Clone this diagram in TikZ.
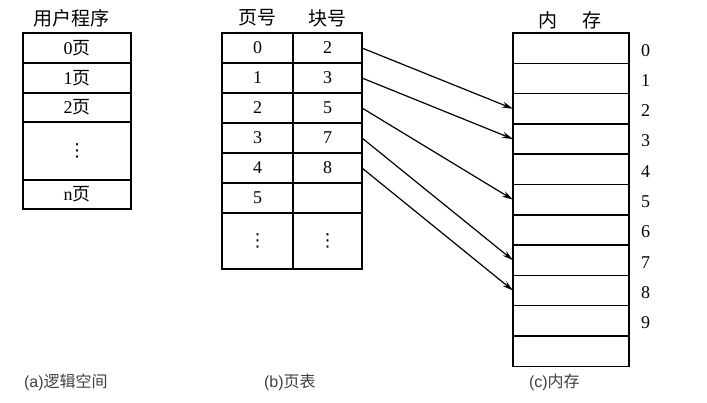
\documentclass[tikz,border=0pt]{standalone}
\usepackage{fontspec}
\setmainfont{Liberation Serif}
\setsansfont{Liberation Sans}
\newfontfamily\cjk{Noto Sans CJK SC}
\newfontfamily\symf{DejaVu Sans}
\usetikzlibrary{positioning,arrows.meta}

\begin{document}
\begin{tikzpicture}[x=1pt,y=-1pt,>={Stealth[length=11pt,width=6pt]},line width=1.5pt,
    cell/.style={draw,inner sep=0pt,outer sep=0pt,font=\fontsize{18}{20}\selectfont},
    acell/.style={cell,minimum width=108pt},
    pcell/.style={cell,minimum width=71pt,minimum height=30pt},
    kcell/.style={cell,minimum width=69pt,minimum height=30pt},
    mcell/.style={cell,anchor=north west,minimum width=116pt,minimum height=30.3pt},
    title/.style={font=\cjk\fontsize{19}{21}\selectfont},
    caption/.style={anchor=west,text=black!75,font=\sffamily\fontsize{16}{18}\selectfont}]

    \useasboundingbox (0,0) rectangle (707,402);

    % (a) logical space
    \node[title] (ta) at (72,18) {用户程序};
    \node[acell, anchor=north west, minimum height=30pt] (a0) at (23,33) {0{\cjk 页}};
    \node[acell, minimum height=30pt] (a1) [below=0pt of a0] {1{\cjk 页}};
    \node[acell, minimum height=29pt] (a2) [below=0pt of a1] {2{\cjk 页}};
    \node[acell, minimum height=58pt] (a3) [below=0pt of a2] {\symf ⋮};
    \node[acell, minimum height=29pt] (a4) [below=0pt of a3] {n{\cjk 页}};

    % (b) page table
    \node[title] (tp) at (257,18) {页号};
    \node[title] (tk) at (327,18) {块号};
    \node[pcell, anchor=north west] (p0) at (222,33) {0};
    \node[pcell] (p1) [below=0pt of p0] {1};
    \node[pcell] (p2) [below=0pt of p1] {2};
    \node[pcell] (p3) [below=0pt of p2] {3};
    \node[pcell] (p4) [below=0pt of p3] {4};
    \node[pcell] (p5) [below=0pt of p4] {5};
    \node[pcell, minimum height=56pt] (p6) [below=0pt of p5] {\symf ⋮};
    \node[kcell] (k0) [right=0pt of p0] {2};
    \node[kcell] (k1) [right=0pt of p1] {3};
    \node[kcell] (k2) [right=0pt of p2] {5};
    \node[kcell] (k3) [right=0pt of p3] {7};
    \node[kcell] (k4) [right=0pt of p4] {8};
    \node[kcell] (k5) [right=0pt of p5] {};
    \node[kcell, minimum height=56pt] (k6) [right=0pt of p6] {\symf ⋮};

    % (c) memory
    \node[title] (tm) at (570,20) {内\hspace{26pt}存};
    \foreach \i in {0,...,10}
        \node[mcell] (m\i) at (513,{33+30.3*\i}) {};
    \foreach \i in {0,...,9}
        \node[font=\fontsize{18}{20}\selectfont] (l\i) [right=8pt of m\i, yshift=-2pt] {\i};

    \draw[->, line width=1.2pt] (k0.east) to (m2.west);
    \draw[->, line width=1.2pt] (k1.east) to (m3.west);
    \draw[->, line width=1.2pt] (k2.east) to (m5.west);
    \draw[->, line width=1.2pt] (k3.east) to (m7.west);
    \draw[->, line width=1.2pt] (k4.east) to (m8.west);

    % captions
    \node[caption] (ca) at (20,382) {(a){\cjk 逻辑空间}};
    \node[caption] (cb) at (260,382) {(b){\cjk 页表}};
    \node[caption] (cc) at (525,382) {(c){\cjk 内存}};

\end{tikzpicture}
\end{document}
